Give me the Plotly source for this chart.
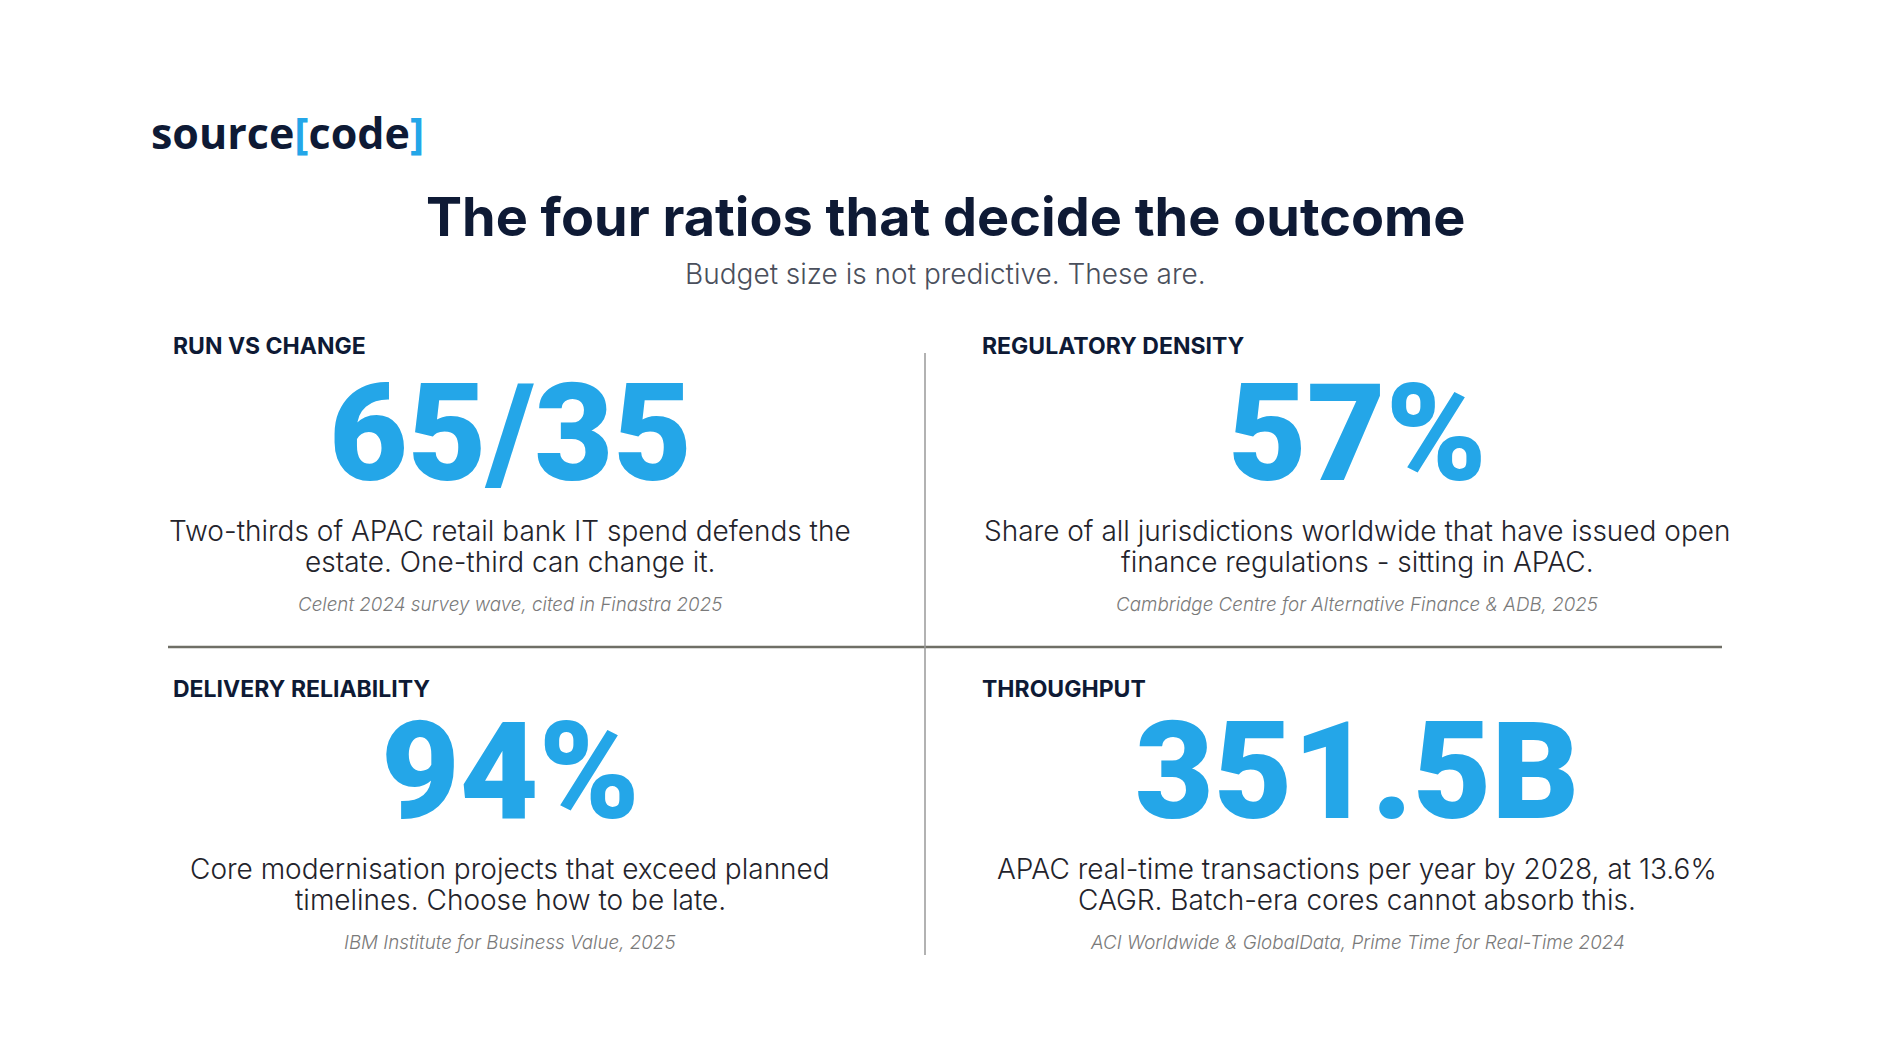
import plotly.graph_objects as go

# page text
logo_word = "source"
logo_inner = "code"
title = "The four ratios that decide the outcome"
subtitle = "Budget size is not predictive. These are."

labels = ["RUN VS CHANGE", "REGULATORY DENSITY", "DELIVERY RELIABILITY", "THROUGHPUT"]
figures = ["65/35", "57%", "94%", "351.5B"]
descriptions = [
    ["Two-thirds of APAC retail bank IT spend defends the", "estate. One-third can change it."],
    ["Share of all jurisdictions worldwide that have issued open", "finance regulations - sitting in APAC."],
    ["Core modernisation projects that exceed planned", "timelines. Choose how to be late."],
    ["APAC real-time transactions per year by 2028, at 13.6%", "CAGR. Batch-era cores cannot absorb this."],
]
sources = [
    "Celent 2024 survey wave, cited in Finastra 2025",
    "Cambridge Centre for Alternative Finance & ADB, 2025",
    "IBM Institute for Business Value, 2025",
    "ACI Worldwide & GlobalData, Prime Time for Real-Time 2024",
]

NAVY = "#0e1a35"
BLUE = "#24a6e8"
BODY = "#23232b"
GREY = "#7a7a7a"

# the page body has an 8px margin, so the axes map straight onto screen pixels
PAD = 8
W, H = 1890 - 2 * PAD, 1062 - 2 * PAD
col_left = [171, 980]
col_mid = [510, 1357]
label_y = [346, 689]
row_base = [346, 684]

fig = go.Figure()
fig.add_trace(go.Scatter(x=[PAD, PAD + W], y=[PAD, PAD + H], mode="markers",
                         marker=dict(opacity=0), hoverinfo="skip", showlegend=False))

# logo
fig.add_annotation(
    x=149, y=132, xanchor="left", yanchor="middle", showarrow=False,
    text=(f"{logo_word}<span style='color:{BLUE}'>[</span>{logo_inner}"
          f"<span style='color:{BLUE}'>]</span>"),
    font=dict(family="Open Sans", size=43, color=NAVY, weight=700),
)

fig.add_annotation(x=945, y=216, text=title, showarrow=False, yanchor="middle",
                   font=dict(family="Inter", size=54, color=NAVY, weight=700))
fig.add_annotation(x=945, y=274, text=subtitle, showarrow=False, yanchor="middle",
                   font=dict(family="Inter", size=28, color="#4a4f5c", weight=300))

for i in range(4):
    c = i % 2
    r = i // 2
    y0 = row_base[r]
    fig.add_annotation(x=col_left[c], y=label_y[r], text=labels[i], showarrow=False,
                       xanchor="left", yanchor="middle",
                       font=dict(family="Inter", size=23, color=NAVY, weight=700))
    fig.add_annotation(x=col_mid[c], y=y0 + 87, text=figures[i], showarrow=False,
                       yanchor="middle",
                       font=dict(family="Roboto", size=136, color=BLUE, weight=900))
    for k, line in enumerate(descriptions[i]):
        fig.add_annotation(x=col_mid[c], y=y0 + 185 + 31 * k, text=line, showarrow=False,
                           yanchor="middle",
                           font=dict(family="Inter", size=28, color=BODY, weight=300))
    fig.add_annotation(x=col_mid[c], y=y0 + 258, text=sources[i], showarrow=False,
                       yanchor="middle",
                       font=dict(family="Inter", size=18.8, color=GREY, weight=300,
                                 style="italic"))

# dividers
fig.add_shape(type="line", x0=168, x1=1722, y0=647, y1=647,
              line=dict(color="#6f6f66", width=2.5))
fig.add_shape(type="line", x0=925, x1=925, y0=353, y1=955,
              line=dict(color="#999999", width=1.5))

fig.update_layout(
    width=W, height=H,
    margin=dict(l=0, r=0, t=0, b=0),
    paper_bgcolor="white", plot_bgcolor="white",
    xaxis=dict(range=[PAD, PAD + W], visible=False, fixedrange=True),
    yaxis=dict(range=[PAD + H, PAD], visible=False, fixedrange=True),
    showlegend=False,
)

fig.write_html("out.html")
